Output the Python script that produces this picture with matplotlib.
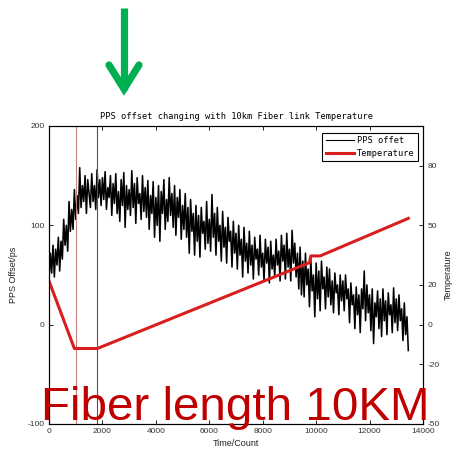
import numpy as np
import matplotlib
matplotlib.use("Agg")
import matplotlib.pyplot as plt
from matplotlib.lines import Line2D

# PPS offset (ps), one sample every `sample_step` counts
sample_step = 50
pps_offset = [
    44, 72, 52, 80, 48, 76, 60, 88, 54, 84,
    66, 106, 80, 100, 74, 124, 94, 116, 96, 136,
    106, 130, 112, 158, 118, 140, 124, 150, 112, 146,
    132, 118, 152, 124, 140, 116, 156, 128, 146, 120,
    148, 126, 154, 116, 138, 128, 150, 110, 142, 122,
    152, 112, 134, 104, 146, 120, 153, 98, 140, 116,
    136, 110, 155, 118, 142, 102, 148, 122, 132, 106,
    150, 114, 138, 108, 145, 96, 130, 112, 144, 88,
    128, 100, 140, 84, 134, 112, 146, 96, 126, 104,
    148, 110, 132, 98, 140, 90, 128, 108, 136, 86,
    120, 96, 132, 88, 118, 72, 126, 94, 112, 70,
    120, 84, 110, 68, 118, 92, 104, 76, 124, 82,
    106, 74, 131, 88, 112, 70, 118, 84, 100, 64,
    114, 78, 98, 62, 108, 84, 94, 58, 104, 72,
    92, 56, 100, 70, 86, 48, 98, 64, 82, 52,
    94, 60, 80, 46, 88, 66, 76, 50, 90, 58,
    72, 44, 86, 62, 78, 42, 84, 56, 70, 48,
    86, 60, 74, 44, 90, 64, 80, 46, 92, 58,
    76, 44, 95, 62, 82, 48, 72, 36, 78, 30,
    64, 28, 72, 40, 56, 18, 66, 34, 50, 8,
    62, 26, 54, 14, 64, 36, 48, 16, 58, 28,
    56, 20, 44, 12, 52, 32, 40, 10, 50, 24,
    44, 14, 50, 26, 36, 2, 42, 20, 30, -4,
    38, 10, 30, -8, 36, 16, 54, 4, 40, 12,
    30, -6, 36, -19, 22, 8, 34, -4, 26, -12,
    36, 4, 24, -10, 32, 10, 20, -8, 37, 2,
    26, -6, 30, 4, 16, -16, 22, -10, 8, -26,
]

# Fiber link temperature (piecewise record)
temp_time = [0, 950, 1810, 9750, 9800, 10150, 13450]
temp_value = [22, -12, -12, 31.2, 34.6, 34.6, 53.5]

# Vertical markers
marker_times = [1000, 1810]
marker_colors = ["#c98080", "#b52a2a"]

x_ticks = [0, 2000, 4000, 6000, 8000, 10000, 12000, 14000]
left_ticks = [-100, 0, 100, 200]
right_ticks = [-50, -20, 0, 20, 50, 80]

W, H = 453, 455
fig = plt.figure(figsize=(W / 100, H / 100), dpi=100)
ax = fig.add_axes([49 / W, 31 / H, 374 / W, 298 / H])

tick_font = dict(family="Liberation Sans", size=6)
mono = "DejaVu Sans Mono"

counts = np.arange(len(pps_offset)) * sample_step
ln_pps, = ax.plot(counts, pps_offset, color="black", lw=1.15)
for t, c in zip(marker_times, marker_colors):
    ax.axvline(t, color=c, lw=0.8)

ax.set_xlim(0, 14000)
ax.set_ylim(-100, 200)
ax.set_xticks(x_ticks)
ax.set_yticks(left_ticks)
ax.set_xticklabels([str(v) for v in x_ticks], **tick_font, color="#333333")
ax.set_yticklabels([str(v) for v in left_ticks], **tick_font, color="#333333")
ax.tick_params(axis="x", direction="in", length=3, width=0.6, top=True, pad=3)
ax.tick_params(axis="y", direction="in", length=3, width=0.6, right=False, pad=3)
for s in ax.spines.values():
    s.set_linewidth(0.8)

ax.set_xlabel("Time/Count", family="Liberation Sans", size=6.5, color="#222222", labelpad=3)
ax.set_ylabel("PPS Offset/ps", family="Liberation Sans", size=6.5, color="#222222", labelpad=7)
ax.set_title("PPS offset changing with 10km Fiber link Temperature",
             family=mono, size=6.2, pad=5)

ax2 = ax.twinx()
ln_temp, = ax2.plot(temp_time, temp_value, color="#d81e1e", lw=2.2)
ax2.set_ylim(-50, 100)
ax2.set_yticks(right_ticks)
ax2.set_yticklabels([str(v) for v in right_ticks], **tick_font, color="#333333")
ax2.tick_params(axis="y", direction="in", length=3, width=0.6, pad=3)
ax2.set_ylabel("Temperature", family="Liberation Sans", size=6.5, color="#222222", labelpad=3)

leg = ax2.legend([ln_pps, ln_temp], ["PPS offet", "Temperature"],
                 loc="upper right", bbox_to_anchor=(0.987, 0.977),
                 borderaxespad=0, fancybox=False, framealpha=1,
                 edgecolor="black", handlelength=3.3, handletextpad=0.3,
                 borderpad=0.4, labelspacing=0.4,
                 prop=dict(family=mono, size=6.2))
leg.get_frame().set_linewidth(0.8)
leg.get_lines()[0].set_linewidth(0.8)

# Caption across the lower part of the plot
fig.text(41 / W, (H - 420) / H, "Fiber length 10KM", family="Liberation Sans",
         size=34.2, color="#c00000", ha="left", va="baseline", zorder=10)

# Green pointer arrow at the top
def px(x, y):
    return x / W, (H - y) / H

green = "#00b050"
sx, sy = zip(px(124, 8), px(124, 90))
fig.add_artist(Line2D(sx, sy, color=green, lw=5.2, solid_capstyle="butt",
                      transform=fig.transFigure))
hx, hy = zip(px(109, 65), px(124, 89), px(139, 65))
fig.add_artist(Line2D(hx, hy, color=green, lw=5.2, solid_capstyle="round",
                      solid_joinstyle="miter", transform=fig.transFigure))

fig.savefig("out.png", dpi=100)
